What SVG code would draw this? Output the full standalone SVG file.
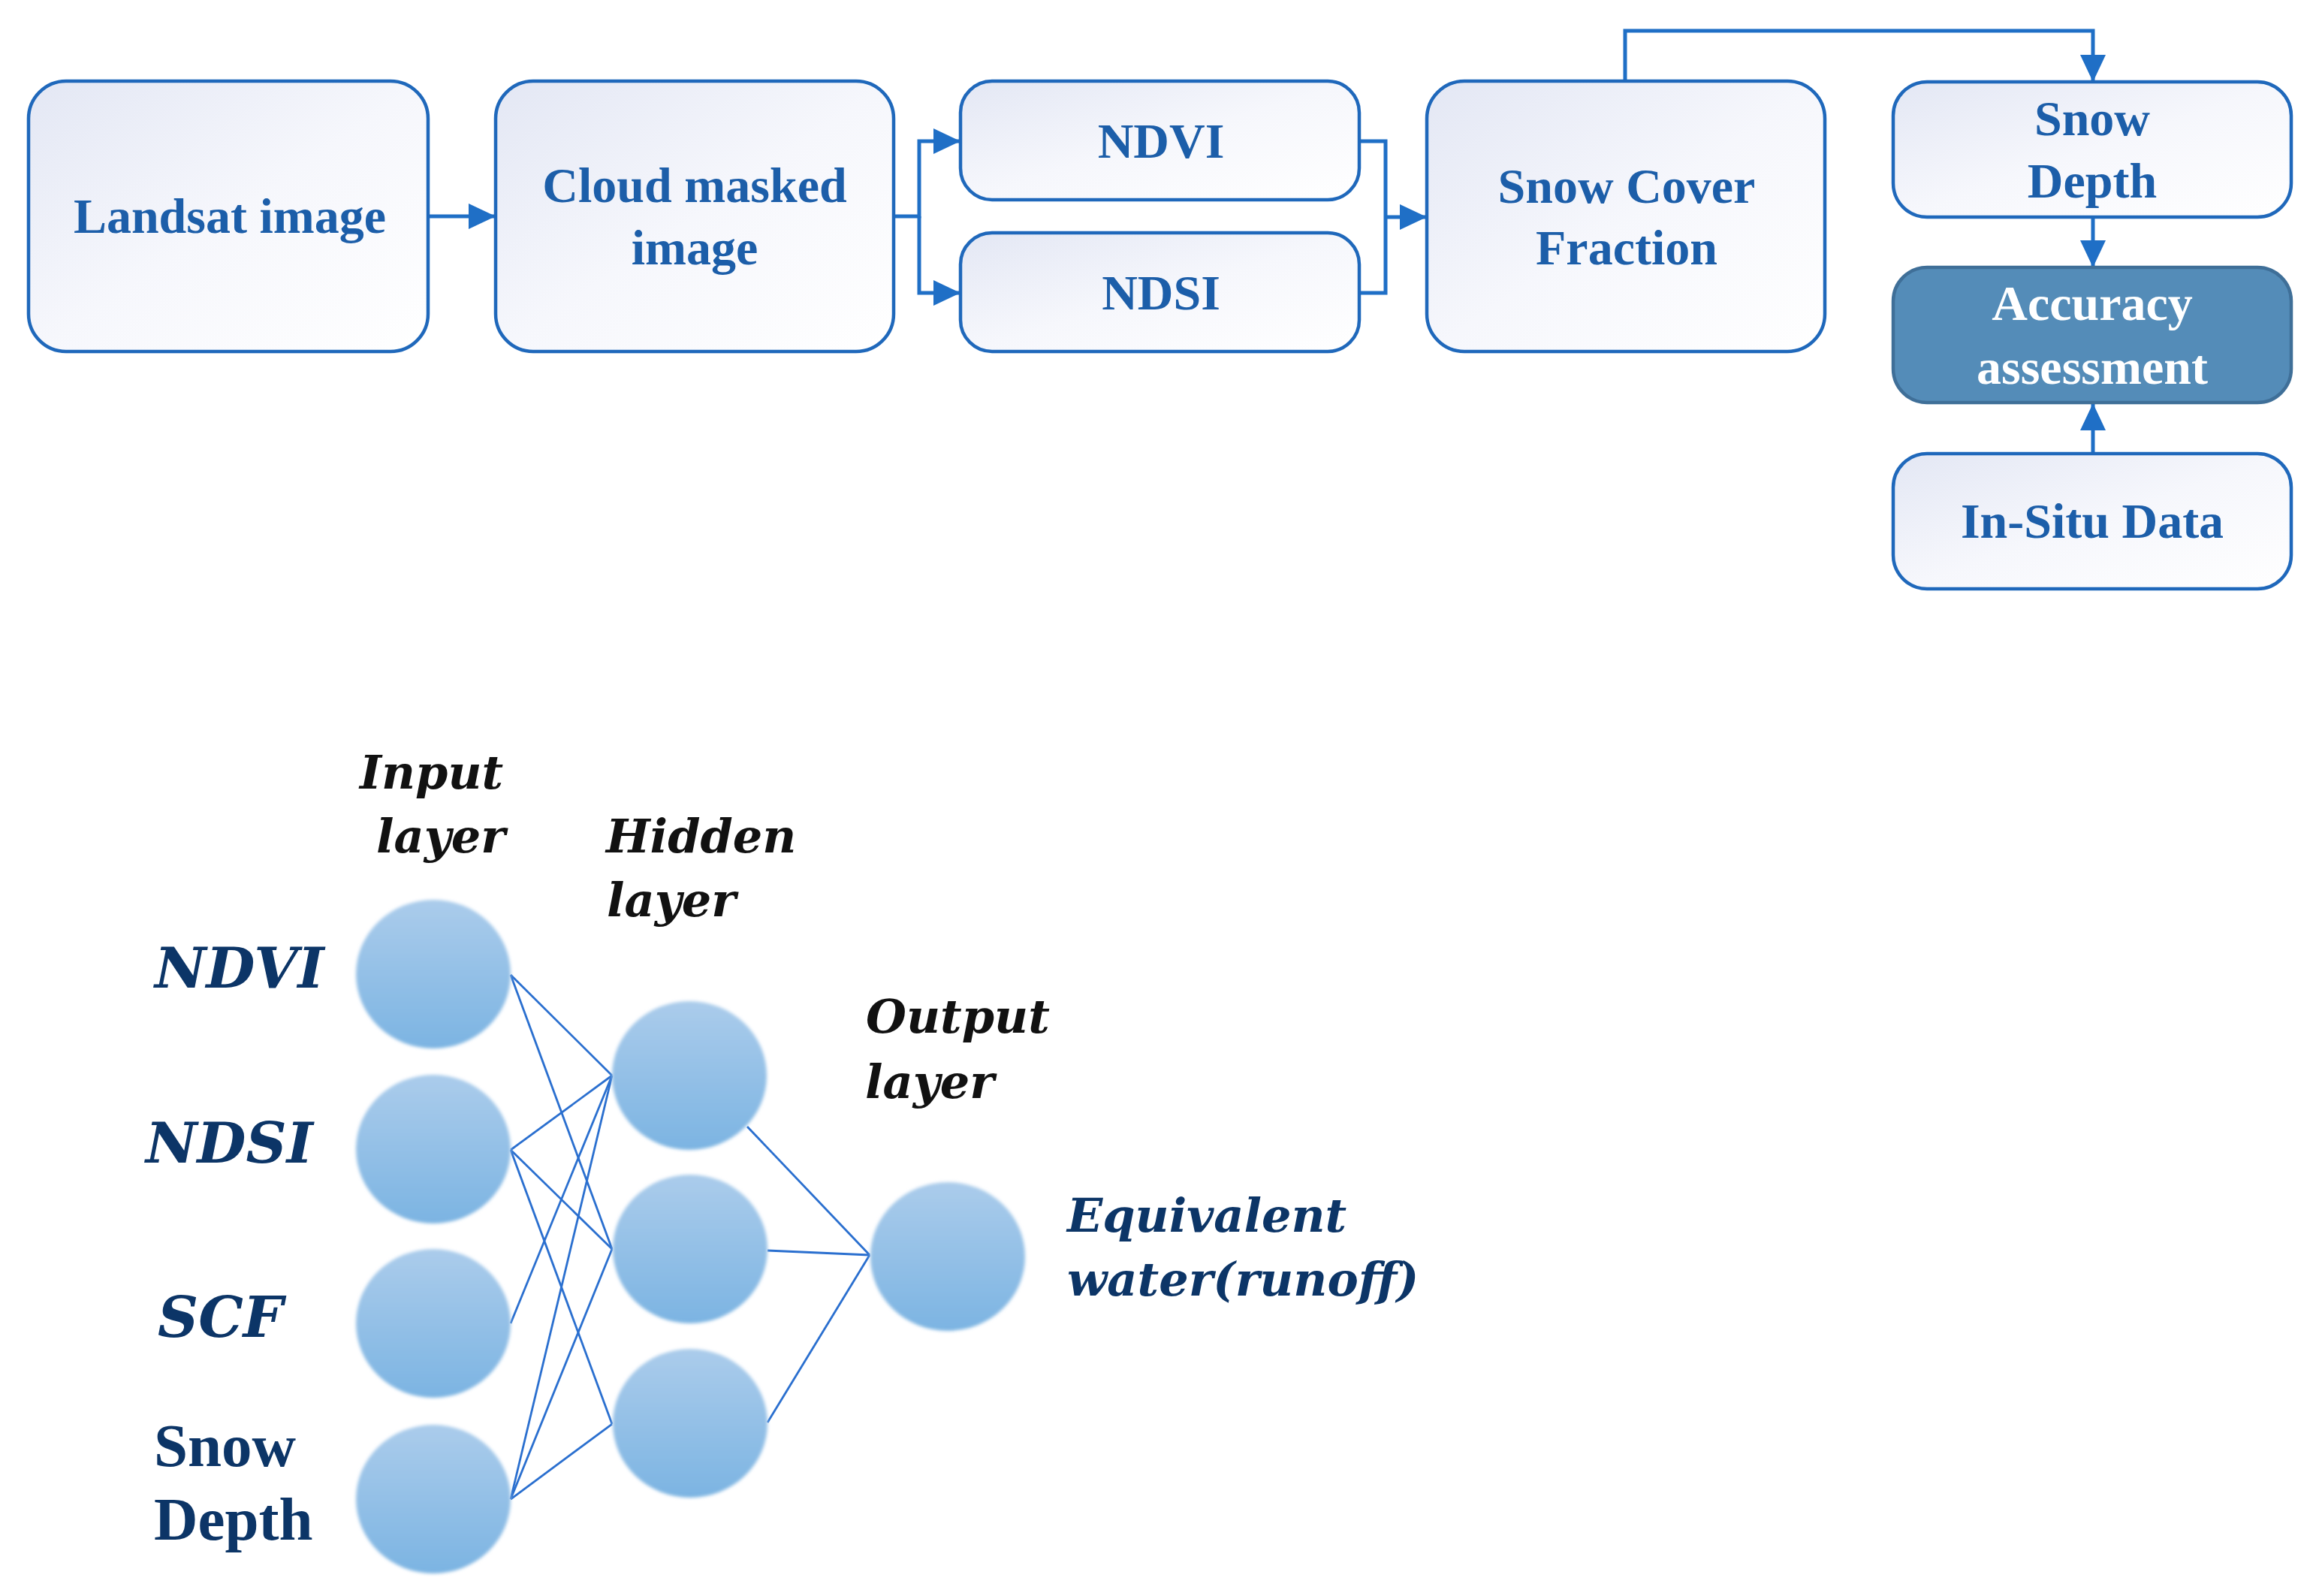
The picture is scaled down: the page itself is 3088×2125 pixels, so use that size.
<svg xmlns="http://www.w3.org/2000/svg" width="3088" height="2125" viewBox="0 0 3088 2125">
<defs>
<linearGradient id="boxg" x1="0" y1="0" x2="1" y2="1">
<stop offset="0" stop-color="#e3e7f4"/>
<stop offset="0.5" stop-color="#f6f7fc"/>
<stop offset="1" stop-color="#ffffff"/>
</linearGradient>
<linearGradient id="circg" x1="0" y1="0" x2="0" y2="1">
<stop offset="0" stop-color="#abcceb"/>
<stop offset="1" stop-color="#7cb4e2"/>
</linearGradient>
<filter id="soft" x="-10%" y="-10%" width="120%" height="120%">
<feGaussianBlur stdDeviation="2"/>
</filter>
<marker id="arr" markerUnits="userSpaceOnUse" markerWidth="36" markerHeight="34" refX="36" refY="17" orient="auto">
<path d="M0,0 L36,17 L0,34 Z" fill="#1f6fc6"/>
</marker>
</defs>
<style>
.box{fill:url(#boxg);stroke:#1f68bb;stroke-width:4.5}
.dark{fill:#548cb8;stroke:#3f6f98;stroke-width:4.5}
.t{font-family:"Liberation Serif",serif;font-weight:bold;font-size:66px;fill:#1c5ea9;text-anchor:middle}
.tw{fill:#ffffff}
.con{fill:none;stroke:#1f6fc6;stroke-width:5}
.nn{fill:url(#circg);filter:url(#soft)}
.ln{stroke:#2a6fcf;stroke-width:2.8;fill:none}
.lab{font-family:"DejaVu Serif",serif;font-weight:bold;font-style:italic;font-size:62px;fill:#111111}
.in{font-family:"DejaVu Serif",serif;font-weight:bold;font-style:italic;font-size:75px;fill:#0c3567}
.eq{font-family:"DejaVu Serif",serif;font-weight:bold;font-style:italic;font-size:62px;fill:#0c3567}
.sd{font-family:"Liberation Serif",serif;font-weight:bold;font-size:81px;fill:#0c3567}
</style>

<g id="connectors">
<path class="con" d="M570,288 H660" marker-end="url(#arr)"/>
<path class="con" d="M1190,288 H1224 V188 H1279" marker-end="url(#arr)"/>
<path class="con" d="M1224,288 V390 H1279" marker-end="url(#arr)"/>
<path class="con" d="M1810,188 H1845 V390 H1810"/>
<path class="con" d="M1845,289 H1900" marker-end="url(#arr)"/>
<path class="con" d="M2164,108 V41 H2787 V109" marker-end="url(#arr)"/>
<path class="con" d="M2787,290 V356" marker-end="url(#arr)"/>
<path class="con" d="M2787,604 V537" marker-end="url(#arr)"/>
</g>

<g id="landsat">
<rect class="box" x="38" y="108" width="532" height="360" rx="50" ry="50"/>
<text class="t" x="306" y="310">Landsat image</text>
</g>
<g id="cloud">
<rect class="box" x="660" y="108" width="530" height="360" rx="50" ry="50"/>
<text class="t" x="925" y="269">Cloud masked</text>
<text class="t" x="925" y="352">image</text>
</g>
<g id="ndvi">
<rect class="box" x="1279" y="108" width="531" height="158" rx="42" ry="42"/>
<text class="t" x="1546" y="210">NDVI</text>
</g>
<g id="ndsi">
<rect class="box" x="1279" y="310" width="531" height="158" rx="42" ry="42"/>
<text class="t" x="1546" y="412">NDSI</text>
</g>
<g id="scf">
<rect class="box" x="1900" y="108" width="530" height="360" rx="50" ry="50"/>
<text class="t" x="2166" y="270">Snow Cover</text>
<text class="t" x="2166" y="352">Fraction</text>
</g>
<g id="snowdepth">
<rect class="box" x="2521" y="109" width="530" height="180" rx="45" ry="45"/>
<text class="t" x="2786" y="180">Snow</text>
<text class="t" x="2786" y="263">Depth</text>
</g>
<g id="accuracy">
<rect class="dark" x="2521" y="356" width="530" height="180" rx="45" ry="45"/>
<text class="t tw" x="2786" y="426">Accuracy</text>
<text class="t tw" x="2786" y="511">assessment</text>
</g>
<g id="insitu">
<rect class="box" x="2521" y="604" width="530" height="180" rx="45" ry="45"/>
<text class="t" x="2786" y="716">In-Situ Data</text>
</g>

<g id="nn-connectors">
<line class="ln" x1="680" y1="1298" x2="815" y2="1432"/>
<line class="ln" x1="680" y1="1298" x2="815" y2="1663"/>
<line class="ln" x1="680" y1="1531" x2="815" y2="1432"/>
<line class="ln" x1="680" y1="1531" x2="815" y2="1663"/>
<line class="ln" x1="680" y1="1531" x2="815" y2="1896"/>
<line class="ln" x1="680" y1="1762" x2="815" y2="1432"/>
<line class="ln" x1="680" y1="1996" x2="815" y2="1432"/>
<line class="ln" x1="680" y1="1996" x2="815" y2="1663"/>
<line class="ln" x1="680" y1="1996" x2="815" y2="1896"/>
<line class="ln" x1="995" y1="1500" x2="1158" y2="1671"/>
<line class="ln" x1="1022" y1="1665" x2="1158" y2="1671"/>
<line class="ln" x1="1022" y1="1894" x2="1158" y2="1671"/>
</g>

<g id="in-ndvi"><ellipse class="nn" cx="577" cy="1297" rx="103" ry="99"/><text class="in" x="206" y="1315">NDVI</text></g>
<g id="in-ndsi"><ellipse class="nn" cx="577" cy="1530" rx="103" ry="99"/><text class="in" x="194" y="1548">NDSI</text></g>
<g id="in-scf"><ellipse class="nn" cx="577" cy="1762" rx="103" ry="99"/><text class="in" x="210" y="1780">SCF</text></g>
<g id="in-sd"><ellipse class="nn" cx="577" cy="1996" rx="103" ry="99"/><text class="sd" x="205" y="1952">Snow</text><text class="sd" x="205" y="2050">Depth</text></g>
<g id="hid1"><ellipse class="nn" cx="918" cy="1432" rx="103" ry="99"/></g>
<g id="hid2"><ellipse class="nn" cx="919" cy="1663" rx="103" ry="99"/></g>
<g id="hid3"><ellipse class="nn" cx="919" cy="1895" rx="103" ry="99"/></g>
<g id="out"><ellipse class="nn" cx="1262" cy="1673" rx="103" ry="99"/><text class="eq" x="1421" y="1640">Equivalent</text><text class="eq" x="1421" y="1725">water(runoff)</text></g>

<g id="labels">
<text class="lab" x="479" y="1050">Input</text>
<text class="lab" x="501" y="1135">layer</text>
<text class="lab" x="807" y="1135">Hidden</text>
<text class="lab" x="808" y="1220">layer</text>
<text class="lab" x="1153" y="1375">Output</text>
<text class="lab" x="1152" y="1462">layer</text>
</g>
</svg>
